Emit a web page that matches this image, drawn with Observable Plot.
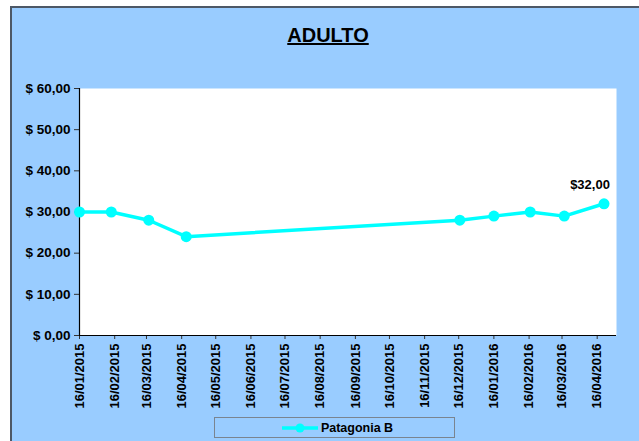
<!DOCTYPE html>
<html><head><meta charset="utf-8">
<script src="https://cdn.jsdelivr.net/npm/d3@7"></script>
<script src="https://cdn.jsdelivr.net/npm/@observablehq/plot@0.6"></script>
<style>
body{margin:0;background:#fff;}
#wrap{position:relative;width:639px;height:441px;overflow:hidden;font-family:"Liberation Sans",Arial,sans-serif;}
#bg{position:absolute;left:10px;top:6px;width:660px;height:460px;background:#99CCFF;border:2px solid #4d5866;}
#title{position:absolute;left:0;width:656px;top:24px;text-align:center;font-size:20px;font-weight:bold;text-decoration:underline;text-decoration-thickness:2px;color:#000;}
#chart{position:absolute;left:0;top:0;}
#legend{position:absolute;left:214px;top:417px;width:241px;height:21px;border:1px solid #7a8490;box-sizing:border-box;display:flex;align-items:center;justify-content:center;font-size:12.5px;font-weight:bold;color:#000;padding-left:6px;}
#legend svg{margin-right:3px;}
</style>
</head><body>
<div id="wrap">
  <div id="bg"></div>
  <div id="title">ADULTO</div>
  <div id="chart"></div>
  <div id="legend"><svg width="36" height="10"><line x1="0" y1="5" x2="36" y2="5" stroke="#00FFFF" stroke-width="3.5"/><circle cx="18" cy="5" r="4.5" fill="#00FFFF"/></svg><span>Patagonia B</span></div>
</div>
<script>
const seriesName = "Patagonia B";
const dates = ["2015-01-16","2015-02-13","2015-03-18","2015-04-20","2015-12-17","2016-01-16","2016-02-17","2016-03-18","2016-04-22"];
const prices = [30,30,28,24,28,29,30,29,32];
const tickDates = ["2015-01-16","2015-02-16","2015-03-16","2015-04-16","2015-05-16","2015-06-16","2015-07-16","2015-08-16","2015-09-16","2015-10-16","2015-11-16","2015-12-16","2016-01-16","2016-02-16","2016-03-16","2016-04-16"];
const yTicks = [0,10,20,30,40,50,60];
const xDomain = ["2015-01-16","2016-05-03"];

const data = dates.map((d,i)=>({date:new Date(d+"T00:00:00Z"), price:prices[i], series:seriesName}));
const last = data[data.length-1];
const fmtMoney = v => "$ " + v.toFixed(2).replace(".", ",");
const fmtLabel = v => "$" + v.toFixed(2).replace(".", ",");
const fmtDate = d3.utcFormat("%d/%m/%Y");

const plot = Plot.plot({
  width: 639,
  height: 441,
  marginLeft: 79,
  marginRight: 23,
  marginTop: 88,
  marginBottom: 106,
  style: {background:"transparent", fontFamily:"'Liberation Sans', Arial, sans-serif", fontSize:"13px", fontWeight:"bold", color:"#000"},
  x: {type:"utc", domain: xDomain.map(d=>new Date(d+"T00:00:00Z"))},
  y: {domain:[0,60]},
  marks: [
    Plot.frame({fill:"white", stroke:null}),
    Plot.axisY({ticks:yTicks, tickFormat:fmtMoney, tickSize:5, tickPadding:4, label:null, stroke:"#333", fontSize:13.5}),
    Plot.axisX({ticks:tickDates.map(d=>new Date(d+"T00:00:00Z")), tickFormat:fmtDate, tickRotate:-90, tickSize:4, tickPadding:4, label:null, stroke:"#333"}),
    Plot.ruleX([new Date(xDomain[0]+"T00:00:00Z")], {stroke:"#000", strokeWidth:1.2}),
    Plot.ruleY([0], {stroke:"#000", strokeWidth:1.2}),
    Plot.line(data, {x:"date", y:"price", stroke:"#00FFFF", strokeWidth:3.5}),
    Plot.dot(data, {x:"date", y:"price", fill:"#00FFFF", r:5.5}),
    Plot.text([last], {x:"date", y:"price", text:d=>fmtLabel(d.price), dx:-14, dy:-19, fontWeight:"bold", fontSize:13, fill:"#000"})
  ]
});
document.getElementById("chart").appendChild(plot);
</script>
</body></html>
